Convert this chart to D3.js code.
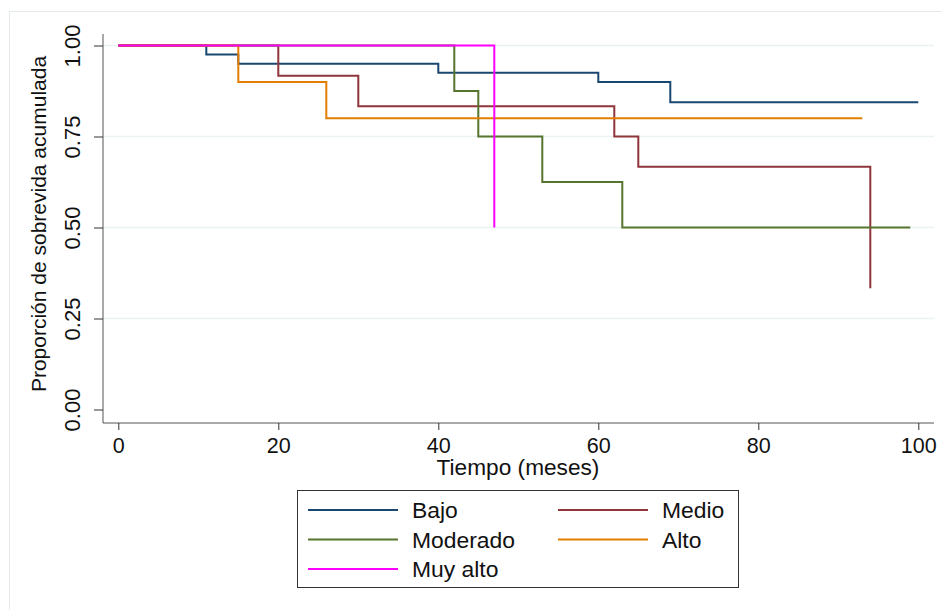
<!DOCTYPE html>
<html>
<head>
<meta charset="utf-8">
<script src="https://cdn.jsdelivr.net/npm/d3@7"></script>
<style>
  body { margin: 0; background: #fff; }
  text { font-family: "Liberation Sans", Arial, sans-serif; fill: #111; }
</style>
</head>
<body>
<script>
const width = 942;
const height = 610;

// Kaplan-Meier curves (time in months, survival)
const bajoTime = [0, 11, 15, 40, 60, 69, 100];
const bajoSurv = [1, 0.975, 0.95, 0.925, 0.9, 0.844, 0.844];
const medioTime = [0, 20, 30, 62, 65, 94];
const medioSurv = [1, 0.917, 0.833, 0.75, 0.667, 0.333];
const moderadoTime = [0, 42, 45, 53, 63, 99];
const moderadoSurv = [1, 0.875, 0.75, 0.625, 0.5, 0.5];
const altoTime = [0, 15, 26, 93];
const altoSurv = [1, 0.9, 0.8, 0.8];
const muyAltoTime = [0, 47];
const muyAltoSurv = [1, 0.5];

const groupNames = ["Bajo", "Medio", "Moderado", "Alto", "Muy alto"];
const groupColors = ["#1a476f", "#90353b", "#55752f", "#e37e00", "#ff00ff"];
const xTicks = [0, 20, 40, 60, 80, 100];
const yTicks = [0, 0.25, 0.5, 0.75, 1];
const gridTicks = [0.25, 0.5, 0.75, 1];

const series = [
  [bajoTime, bajoSurv],
  [medioTime, medioSurv],
  [moderadoTime, moderadoSurv],
  [altoTime, altoSurv],
  [muyAltoTime, muyAltoSurv],
].map((s, i) => ({
  name: groupNames[i],
  color: groupColors[i],
  points: s[0].map((t, j) => ({ t: t, s: s[1][j] })),
}));

let svg = d3
  .select("body")
  .append("svg")
  .attr("width", width)
  .attr("height", height);

// faint outer frame
svg
  .append("rect")
  .attr("x", 9.5)
  .attr("y", 11.5)
  .attr("width", 1000)
  .attr("height", 1000)
  .attr("fill", "none")
  .attr("stroke", "#e4e9ec");

let plot = { left: 103, right: 934, top: 34, bottom: 423 };

let x = d3.scaleLinear().domain([0, 100]).range([118.3, 918.3]);
let y = d3.scaleLinear().domain([0, 1]).range([409.5, 45.5]);

// grid lines
svg
  .append("g")
  .selectAll("line")
  .data(gridTicks)
  .join("line")
  .attr("x1", plot.left)
  .attr("x2", plot.right)
  .attr("y1", (d) => y(d))
  .attr("y2", (d) => y(d))
  .attr("stroke", "#eaf2f3")
  .attr("stroke-width", 1.5);

// y axis
let yAxis = svg
  .append("g")
  .attr("transform", `translate(${plot.left},0)`)
  .call(d3.axisLeft(y).tickValues(yTicks).tickFormat(d3.format(".2f")).tickSize(9).tickPadding(0));
yAxis.select(".domain").attr("d", `M0,${plot.top}V${plot.bottom}`).attr("stroke", "#555");
yAxis.selectAll(".tick line").attr("stroke", "#333");
yAxis
  .selectAll(".tick text")
  .attr("x", null)
  .attr("dy", null)
  .attr("text-anchor", "middle")
  .attr("transform", "translate(-22,0) rotate(-90) translate(0,-1)")
  .style("font-size", "22px")
  .attr("fill", "#111");

// x axis
let xAxis = svg
  .append("g")
  .attr("transform", `translate(0,${plot.bottom})`)
  .call(d3.axisBottom(x).tickValues(xTicks).tickSize(7).tickPadding(8));
xAxis.select(".domain").attr("d", `M${plot.left},0H${plot.right}`).attr("stroke", "#555");
xAxis.selectAll(".tick line").attr("stroke", "#333");
xAxis.selectAll(".tick text").style("font-size", "21.5px").attr("fill", "#111");

// axis titles
svg
  .append("text")
  .attr("transform", "translate(518,475) scale(1.03,1)")
  .attr("text-anchor", "middle")
  .style("font-size", "22px")
  .text("Tiempo (meses)");

svg
  .append("text")
  .attr("transform", "translate(46,224) rotate(-90)")
  .attr("text-anchor", "middle")
  .style("font-size", "21px")
  .text("Proporción de sobrevida acumulada");

// survival curves
let line = d3
  .line()
  .x((d) => x(d.t))
  .y((d) => y(d.s))
  .curve(d3.curveStepAfter);

svg
  .append("g")
  .selectAll("path")
  .data(series)
  .join("path")
  .attr("d", (d) => line(d.points))
  .attr("fill", "none")
  .attr("stroke", (d) => d.color)
  .attr("stroke-width", 2);

// legend
let legend = svg.append("g");
legend
  .append("rect")
  .attr("x", 297.5)
  .attr("y", 490.5)
  .attr("width", 441)
  .attr("height", 97)
  .attr("fill", "#fff")
  .attr("stroke", "#333");

let rowY = [510, 539.5, 569];
let colX = [308, 558];
let items = legend
  .selectAll("g.item")
  .data(series)
  .join("g")
  .attr("class", "item")
  .attr("transform", (d, i) => `translate(${colX[i % 2]},${rowY[Math.floor(i / 2)]})`);
items
  .append("line")
  .attr("x1", 0)
  .attr("x2", 90)
  .attr("stroke", (d) => d.color)
  .attr("stroke-width", 2);
items
  .append("text")
  .attr("transform", "translate(104,8) scale(1.04,1)")
  .style("font-size", "22px")
  .text((d) => d.name);
</script>
</body>
</html>
